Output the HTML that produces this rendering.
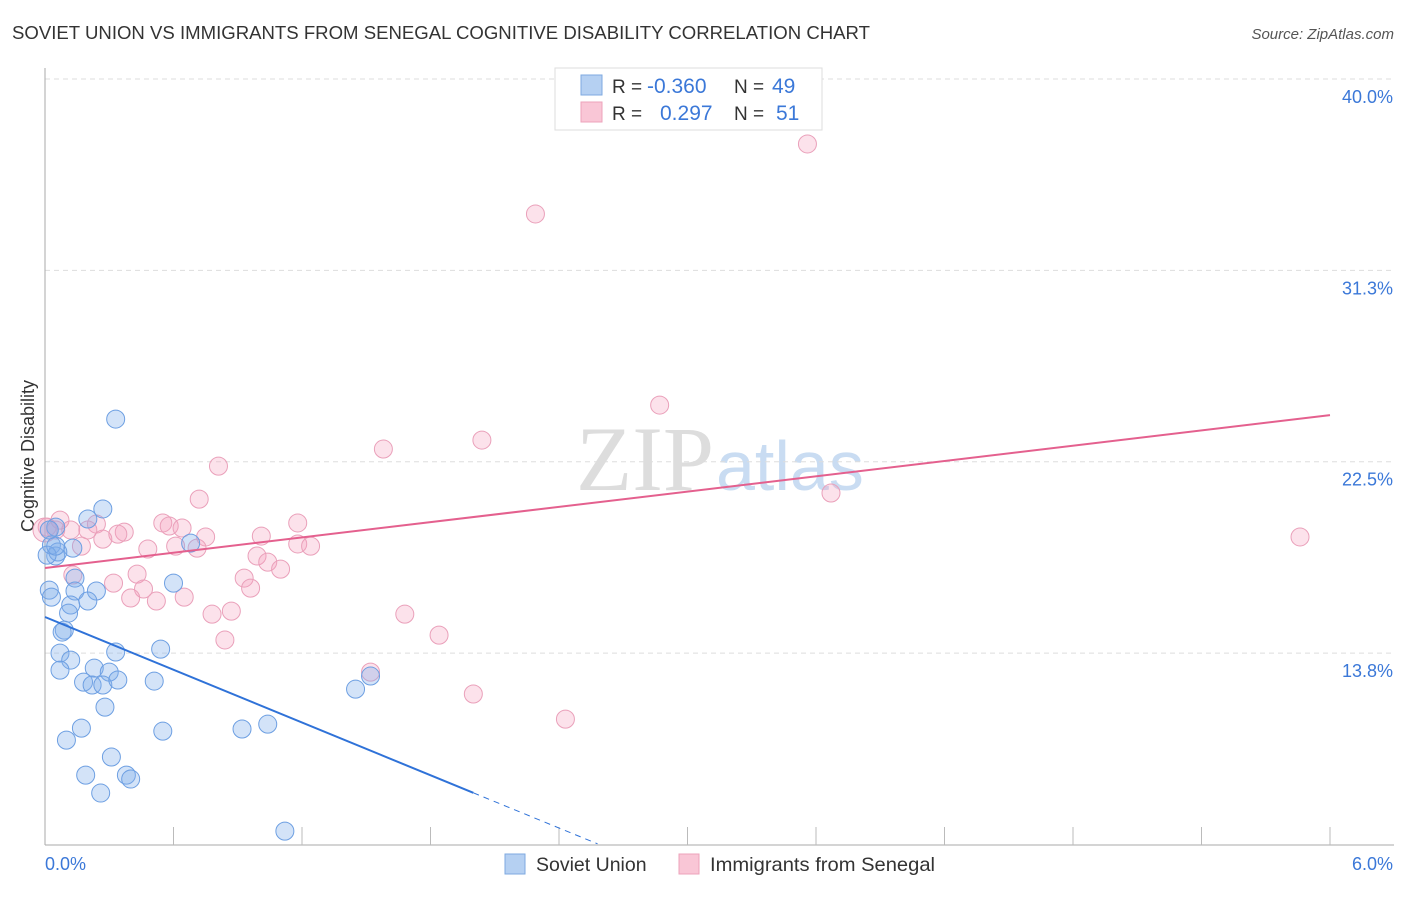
<!DOCTYPE html>
<html><head><meta charset="utf-8"><style>
body{margin:0;background:#fff;font-family:"Liberation Sans",sans-serif}
</style></head><body>
<svg id="chart" width="1406" height="892" xmlns="http://www.w3.org/2000/svg">
<text x="12" y="39" font-size="18" fill="#333" textLength="858" lengthAdjust="spacingAndGlyphs">SOVIET UNION VS IMMIGRANTS FROM SENEGAL COGNITIVE DISABILITY CORRELATION CHART</text>
<text x="1394" y="39" font-size="15" fill="#555" font-style="italic" text-anchor="end">Source: ZipAtlas.com</text>
<text x="714" y="490" font-size="92" fill="#ddd" text-anchor="end" font-family="Liberation Serif">ZIP</text>
<text x="716" y="490" font-size="70" fill="#c9dcf2">atlas</text>
<text transform="translate(34,456) rotate(-90)" font-size="18" fill="#333" text-anchor="middle">Cognitive Disability</text>
<g id="grid"></g><g id="axes"></g><g id="pts"></g><g id="lines"></g>
<g>
<rect x="555" y="68" width="267" height="62" fill="#fff" stroke="#ddd"/>
<rect x="581" y="75" width="21" height="20" fill="#b5d0f2" stroke="#7ea9e0"/>
<rect x="581" y="102" width="21" height="20" fill="#f9c6d6" stroke="#eda3bb"/>
<text x="612" y="93" font-size="19" fill="#333">R = <tspan fill="#3b78d8" font-size="21" x="647">-0.360</tspan></text>
<text x="734" y="93" font-size="19" fill="#333">N = <tspan fill="#3b78d8" font-size="21" x="772">49</tspan></text>
<text x="612" y="120" font-size="19" fill="#333">R = <tspan fill="#3b78d8" font-size="21" x="660">0.297</tspan></text>
<text x="734" y="120" font-size="19" fill="#333">N = <tspan fill="#3b78d8" font-size="21" x="776">51</tspan></text>
</g>
<g>
<rect x="505" y="854" width="20" height="20" fill="#b5d0f2" stroke="#7ea9e0"/>
<text x="536" y="871" font-size="19.5" fill="#333">Soviet Union</text>
<rect x="679" y="854" width="20" height="20" fill="#f9c6d6" stroke="#eda3bb"/>
<text x="710" y="871" font-size="19.5" fill="#333" textLength="225" lengthAdjust="spacingAndGlyphs">Immigrants from Senegal</text>
</g>
</svg>
<script>
const yTicks=[40.0,31.3,22.5,13.8];
const yTickVals=[40,31.25,22.5,13.75];
const xTickLabels=["0.0%","6.0%"];
const sovietX=[.33,.27,.20,.05,.03,.13,.05,.06,.68,.02,.03,.14,.14,.24,.60,.20,.12,.11,.09,.08,.33,.07,.54,.12,.23,.30,.07,.18,.22,.27,.34,.51,1.45,1.52,.28,.17,.10,.55,.92,1.04,.31,.19,.38,.40,.26,1.12,.02,.01,.05];
const sovietY=[24.45,20.34,19.88,19.51,18.69,18.55,18.19,18.37,18.78,16.63,16.31,17.18,16.59,16.59,16.95,16.13,15.95,15.58,14.80,14.71,13.80,13.75,13.93,13.43,13.06,12.88,12.97,12.42,12.29,12.29,12.52,12.47,12.10,12.70,11.28,10.32,9.77,10.18,10.28,10.50,9.00,8.17,8.17,7.99,7.35,5.61,19.38,18.23,18.64];
const senegalX=[3.56,2.29,2.87,2.04,1.58,.81,3.67,.72,5.86,.01,.05,.12,.24,.20,.37,.34,.27,.17,.48,.55,.58,.64,.75,.61,.71,1.01,1.18,1.18,1.24,.99,1.04,1.10,.13,.43,.32,.93,.96,.46,.40,.52,.65,.87,.78,1.68,.84,1.84,1.52,2.00,2.43,.07,0];
const senegalY=[37.03,33.83,25.09,23.49,23.08,22.30,21.07,20.79,19.06,19.51,19.38,19.38,19.65,19.38,19.28,19.19,18.96,18.64,18.51,19.70,19.56,19.47,19.06,18.64,18.55,19.10,19.70,18.74,18.64,18.19,17.91,17.59,17.32,17.36,16.95,17.18,16.72,16.68,16.27,16.13,16.31,15.67,15.53,15.53,14.35,14.57,12.88,11.88,10.73,19.83,19.38];
const sovietTrend=[15.40,-4.02]; // intercept, slope
const senegalTrend=[17.64,1.165];
const NS="http://www.w3.org/2000/svg";
const X=v=>45+v/6*1285, Y=v=>79+(40-v)*21.87;
function mk(tag,attrs,parent){const e=document.createElementNS(NS,tag);for(const k in attrs)e.setAttribute(k,attrs[k]);document.getElementById(parent).appendChild(e);return e;}
yTickVals.forEach((v,i)=>{
 const g=mk('line',{x1:45,x2:1394,y1:Y(v),y2:Y(v),stroke:'#ddd','stroke-dasharray':'5,4'},'grid');
 
 
 const t=mk('text',{x:1393,y:Y(v)+24,'font-size':18,fill:'#3b78d8','text-anchor':'end'},'grid');
 t.textContent=yTicks[i].toFixed(1)+'%';
 
 
});
mk('line',{x1:45,x2:45,y1:68,y2:845,stroke:'#aaa'},'axes');
const xa=mk('line',{x1:45,x2:1394,y1:845,y2:845,stroke:'#aaa'},'axes');


for(let i=1;i<=10;i++){const t=mk('line',{x1:X(i*0.6),x2:X(i*0.6),y1:827,y2:845,stroke:'#bbb'},'axes');
 
 }
[[X(0)+0,'start',xTickLabels[0]],[1393,'end',xTickLabels[1]]].forEach(a=>{const t=mk('text',{x:a[0],y:870,'font-size':18,fill:'#3b78d8','text-anchor':a[1]},'axes');t.textContent=a[2];
 
 });
senegalX.forEach((v,i)=>{const c=mk('circle',{cx:X(v),cy:Y(senegalY[i]),r:(v===0?12:9),fill:'rgba(244,160,190,0.3)',stroke:'#eaa0ba','stroke-width':1},'pts');
 
 });
sovietX.forEach((v,i)=>{const c=mk('circle',{cx:X(v),cy:Y(sovietY[i]),r:9,fill:'rgba(130,175,235,0.35)',stroke:'#6d9fe2','stroke-width':1},'pts');
 
 });
const f=(t,x)=>t[0]+t[1]*x;
let l=mk('line',{x1:X(0),y1:Y(f(senegalTrend,0)),x2:X(6),y2:Y(f(senegalTrend,6)),stroke:'#e4608e','stroke-width':2},'lines');


l=mk('line',{x1:X(0),y1:Y(f(sovietTrend,0)),x2:X(2),y2:Y(f(sovietTrend,2)),stroke:'#2f72d8','stroke-width':2},'lines');


l=mk('line',{x1:X(2),y1:Y(f(sovietTrend,2)),x2:X(2.58),y2:Y(f(sovietTrend,2.58)),stroke:'#2f72d8','stroke-width':1,'stroke-dasharray':'6,5'},'lines');


</script>
</body></html>
